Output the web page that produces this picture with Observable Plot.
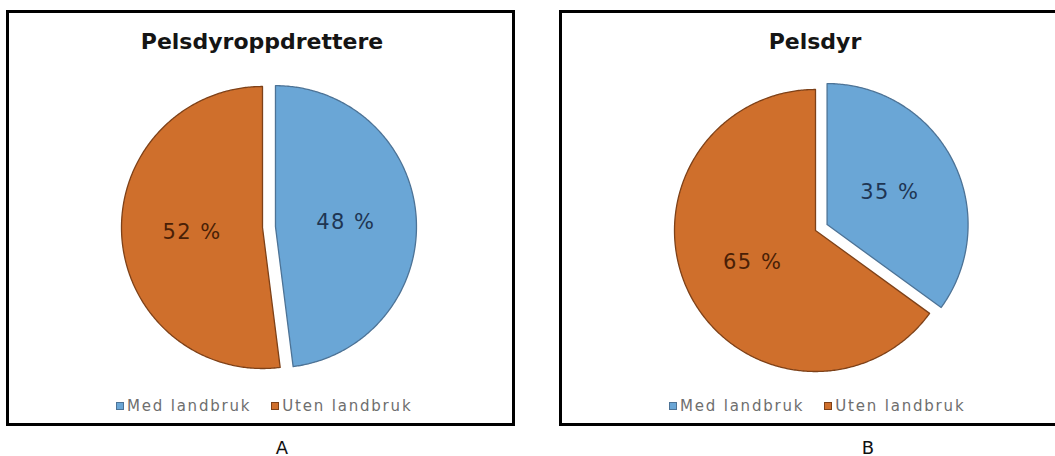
<!DOCTYPE html>
<html><head><meta charset="utf-8">
<script src="https://cdn.jsdelivr.net/npm/d3@7"></script>
<script src="https://cdn.jsdelivr.net/npm/@observablehq/plot@0.6"></script>
<style>
html,body{margin:0;padding:0;background:#fff;}
body{width:1055px;height:456px;overflow:hidden;position:relative;font-family:"DejaVu Sans",Verdana,sans-serif;}
.panel{position:absolute;top:10px;width:509px;height:416px;border:3px solid #000;box-sizing:border-box;background:#fff;}
.title{position:absolute;top:18px;left:253px;font-weight:bold;font-size:22px;line-height:22px;color:#151515;transform:translateX(-50%);white-space:nowrap;}
.plot{position:absolute;left:83px;}
.legend{position:absolute;left:107px;top:383px;display:flex;align-items:center;height:20px;font-size:15px;line-height:20px;letter-spacing:1.8px;color:#6e6e6e;white-space:nowrap;}
.item{display:flex;align-items:center;margin-right:20px;}
.sw{width:6px;height:6px;border:1px solid;margin-right:3px;}
.letter{position:absolute;top:438px;font-size:18px;line-height:20px;color:#111;transform:translateX(-50%);}
</style></head><body>
<script>
// ---- data ----
const categories = ["Med landbruk", "Uten landbruk"];
const panelTitles = ["Pelsdyroppdrettere", "Pelsdyr"];
const panelLetters = ["A", "B"];
const valuesA = [48, 52];
const valuesB = [35, 65];
const labelsA = ["48 %", "52 %"];
const labelsB = ["35 %", "65 %"];
const fillColors = ["#6aa6d6", "#cf6f2c"];
const strokeColors = ["#4d7396", "#7e4118"];
const labelColors = ["#1e3553", "#4a1f06"];

// ---- layout ----
const R = 141, W = 340, H = 310;
const EXPLODE = 13 / 141, LABEL_R = 0.5;
const panels = [
  {left: 6, letterX: 282, cy: 217, values: valuesA, labels: labelsA},
  {left: 559, letterX: 868, cy: 220, values: valuesB, labels: labelsB}
];

function pieChart(values, labels) {
  const arcs = d3.pie().sort(null).value(d => d)(values);
  const pts = [], lab = [];
  arcs.forEach((a, i) => {
    const cat = categories[i];
    const mid = (a.startAngle + a.endAngle) / 2;
    const off = i === 0 ? EXPLODE : 0;
    const cx = off * Math.sin(mid), cy = off * Math.cos(mid);
    pts.push({cat, x: cx, y: cy});
    const n = Math.max(2, Math.ceil((a.endAngle - a.startAngle) / 0.01));
    for (let k = 0; k <= n; k++) {
      const t = a.startAngle + (a.endAngle - a.startAngle) * k / n;
      pts.push({cat, x: cx + Math.sin(t), y: cy + Math.cos(t)});
    }
    pts.push({cat, x: cx, y: cy});
    lab.push({cat, i, text: labels[i], x: cx + LABEL_R * Math.sin(mid), y: cy + LABEL_R * Math.cos(mid)});
  });
  const svg = Plot.plot({
    width: W, height: H, margin: 0,
    x: {domain: [-W / 2 / R, W / 2 / R], axis: null},
    y: {domain: [-H / 2 / R, H / 2 / R], axis: null},
    color: {domain: categories, range: fillColors},
    style: {background: "transparent", fontFamily: "DejaVu Sans, Verdana, sans-serif", overflow: "visible"},
    marks: [
      ...categories.map((c, i) => Plot.line(pts.filter(p => p.cat === c), {
        x: "x", y: "y", fill: "cat", stroke: strokeColors[i], strokeWidth: 1.3, strokeLinejoin: "round"
      })),
      ...categories.map((c, i) => Plot.text(lab.filter(d => d.cat === c), {
        x: "x", y: "y", text: "text", fill: labelColors[i], fontSize: 21
      }))
    ]
  });
  svg.querySelectorAll("text").forEach(t => t.style.letterSpacing = "1.5px");
  return svg;
}

panels.forEach((p, k) => {
  const div = document.createElement("div");
  div.className = "panel";
  div.style.left = p.left + "px";
  const title = document.createElement("div");
  title.className = "title";
  title.textContent = panelTitles[k];
  div.appendChild(title);
  const plotDiv = document.createElement("div");
  plotDiv.className = "plot";
  plotDiv.style.top = (p.cy - 3 - H / 2) + "px";
  plotDiv.appendChild(pieChart(p.values, p.labels));
  div.appendChild(plotDiv);
  const legend = document.createElement("div");
  legend.className = "legend";
  categories.forEach((c, i) => {
    const item = document.createElement("div");
    item.className = "item";
    const sw = document.createElement("div");
    sw.className = "sw";
    sw.style.background = fillColors[i];
    sw.style.borderColor = strokeColors[i];
    const tx = document.createElement("span");
    tx.textContent = c;
    item.appendChild(sw); item.appendChild(tx);
    legend.appendChild(item);
  });
  div.appendChild(legend);
  document.body.appendChild(div);
  const letter = document.createElement("div");
  letter.className = "letter";
  letter.style.left = p.letterX + "px";
  letter.textContent = panelLetters[k];
  document.body.appendChild(letter);
});
</script>
</body></html>
